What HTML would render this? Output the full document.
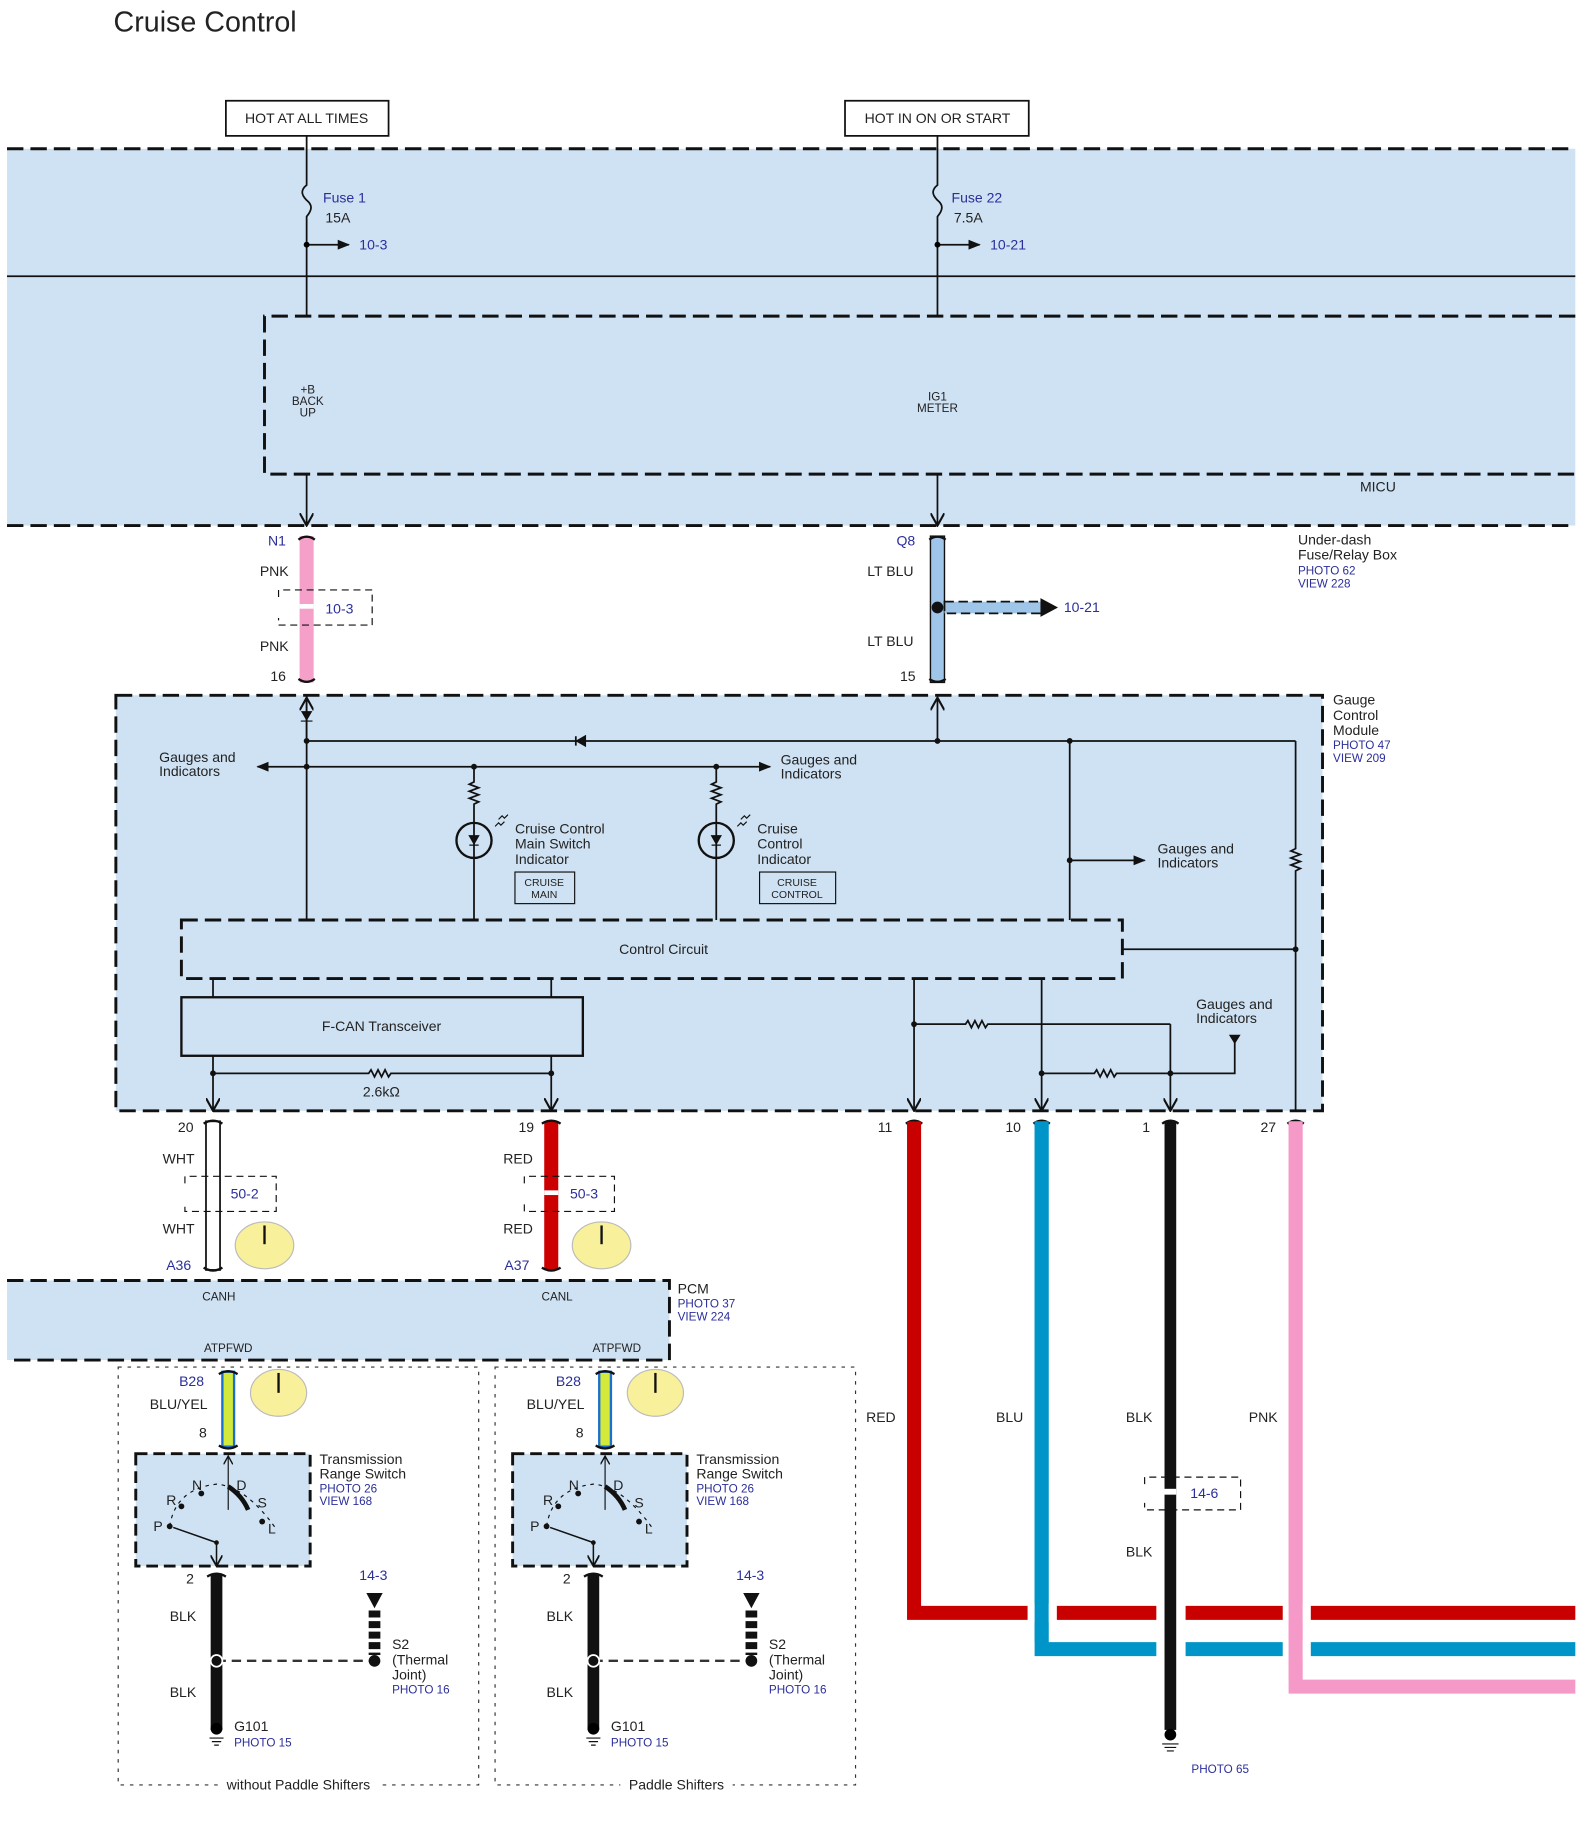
<!DOCTYPE html>
<html><head><meta charset="utf-8"><style>
html,body{margin:0;padding:0;background:#fff;width:1580px;height:1833px;overflow:hidden}
svg{display:block}
text{font-family:"Liberation Sans",sans-serif;font-size:12px;fill:#222}
.b{fill:#2b2f9a}
.s{font-size:10px}
</style></head><body>
<svg width="1580" height="1833" viewBox="0 0 1350 1566" xmlns="http://www.w3.org/2000/svg">
<defs>
<marker id="ar" viewBox="0 0 10 10" refX="9" refY="5" markerWidth="7" markerHeight="7" orient="auto"><path d="M0,1 L10,5 L0,9 Z" fill="#111"/></marker>
<marker id="av" viewBox="0 0 10 10" refX="9" refY="5" markerWidth="8" markerHeight="8" orient="auto"><path d="M0,0 L9,5 L0,10" fill="none" stroke="#111" stroke-width="1.5"/></marker>
</defs>
<text x="97" y="27" style="font-size:24.5px">Cruise Control</text>
<rect x="193" y="86" width="139" height="30" fill="#fff" stroke="#111" stroke-width="1.5"/>
<text x="262" y="105" text-anchor="middle">HOT AT ALL TIMES</text>
<rect x="722" y="86" width="157" height="30" fill="#fff" stroke="#111" stroke-width="1.5"/>
<text x="801" y="105" text-anchor="middle">HOT IN ON OR START</text>
<rect x="6" y="127" width="1340" height="322" fill="#cfe2f3"/>
<g stroke="#111" stroke-width="2.5" stroke-dasharray="14 6" fill="none">
<line x1="6" y1="127" x2="1346" y2="127"/><line x1="6" y1="449" x2="1346" y2="449"/>
<path d="M1346,270 H226 V405 H1346"/>
</g>
<line x1="6" y1="236" x2="1346" y2="236" stroke="#111" stroke-width="1.5"/>
<g stroke="#111" stroke-width="1.5" fill="none">
<path d="M262,116 V158 c-5,4 -5,8 0,13 c5,4 5,8 0,14 V270"/>
<path d="M801,116 V158 c-5,4 -5,8 0,13 c5,4 5,8 0,14 V270"/>
<line x1="262" y1="209" x2="298" y2="209" marker-end="url(#ar)"/>
<line x1="801" y1="209" x2="837" y2="209" marker-end="url(#ar)"/>
<line x1="262" y1="405" x2="262" y2="449" marker-end="url(#av)"/>
<line x1="801" y1="405" x2="801" y2="449" marker-end="url(#av)"/>
</g>
<circle cx="262" cy="209" r="2.5"/><circle cx="801" cy="209" r="2.5"/>
<text x="276" y="173" class="b">Fuse 1</text><text x="278" y="190">15A</text><text x="307" y="213" class="b">10-3</text>
<text x="813" y="173" class="b">Fuse 22</text><text x="815" y="190">7.5A</text><text x="846" y="213" class="b">10-21</text>
<text x="263" y="336" class="s" text-anchor="middle">+B</text><text x="263" y="346" class="s" text-anchor="middle">BACK</text><text x="263" y="356" class="s" text-anchor="middle">UP</text>
<text x="801" y="342" class="s" text-anchor="middle">IG1</text><text x="801" y="352" class="s" text-anchor="middle">METER</text>
<text x="1162" y="420">MICU</text>
<text x="1109" y="465">Under-dash</text><text x="1109" y="478">Fuse/Relay Box</text>
<text x="1109" y="491" class="b s">PHOTO 62</text><text x="1109" y="502" class="b s">VIEW 228</text>
<rect x="256" y="458" width="12" height="125" fill="#f4a0c8"/>
<rect x="795" y="458" width="12" height="125" fill="#9fc5e8" stroke="#111" stroke-width="1.2"/>
<g stroke="#111" stroke-width="2" fill="none">
<path d="M255,461 q7,-5 14,0"/><path d="M255,580 q7,5 14,0"/>
<path d="M794,461 q7,-5 14,0"/><path d="M794,580 q7,5 14,0"/>
</g>
<text x="229" y="466" class="b">N1</text><text x="222" y="492">PNK</text><text x="222" y="556">PNK</text><text x="231" y="582">16</text>
<path d="M238,510 V504 H318 V534 H238 V528" fill="none" stroke="#111" stroke-dasharray="6 4"/>
<rect x="256" y="516" width="12" height="4" fill="#fff"/>
<text x="278" y="524" class="b">10-3</text>
<text x="766" y="466" class="b">Q8</text><text x="741" y="492">LT BLU</text><text x="741" y="552">LT BLU</text><text x="769" y="582">15</text>
<rect x="807" y="514" width="84" height="10" fill="#9fc5e8" stroke="#111" stroke-width="1.5" stroke-dasharray="8 4"/>
<path d="M889,511 L904,519 L889,527 Z" fill="#111"/>
<circle cx="801" cy="519" r="5" fill="#111"/>
<text x="909" y="523" class="b">10-21</text>
<rect x="99" y="594" width="1031" height="355" fill="#cfe2f3" stroke="#111" stroke-width="2.5" stroke-dasharray="14 6"/>
<text x="1139" y="602">Gauge</text><text x="1139" y="615">Control</text><text x="1139" y="628">Module</text>
<text x="1139" y="640" class="b s">PHOTO 47</text><text x="1139" y="651" class="b s">VIEW 209</text>
<g stroke="#111" stroke-width="1.5" fill="none">
<line x1="262" y1="594" x2="262" y2="786"/>
<line x1="262" y1="633" x2="1107" y2="633"/>
<line x1="801" y1="633" x2="801" y2="596" marker-end="url(#av)"/>
<line x1="262" y1="633" x2="262" y2="596" marker-end="url(#av)"/>
<line x1="262" y1="655" x2="220" y2="655" marker-end="url(#ar)"/>
<line x1="262" y1="655" x2="658" y2="655" marker-end="url(#ar)"/>
<path d="M405,655 V668 l-4,2 8,3 -8,3 8,3 -8,3 8,3 -4,2 V786"/>
<path d="M612,655 V668 l-4,2 8,3 -8,3 8,3 -8,3 8,3 -4,2 V786"/>
<circle cx="405" cy="718" r="15" stroke-width="2"/><circle cx="612" cy="718" r="15" stroke-width="2"/>
<line x1="914" y1="633" x2="914" y2="786"/>
<line x1="914" y1="735" x2="978" y2="735" marker-end="url(#ar)"/>
<path d="M1107,633 V725 l-4,2 8,3 -8,3 8,3 -8,3 8,3 -4,2 V949" />
<line x1="959" y1="811" x2="1107" y2="811"/>
<line x1="182" y1="836" x2="182" y2="852"/><line x1="471" y1="836" x2="471" y2="852"/>
<line x1="182" y1="902" x2="182" y2="949" marker-end="url(#av)"/>
<line x1="471" y1="902" x2="471" y2="949" marker-end="url(#av)"/>
<path d="M182,917 H315 l2,-3 3,6 3,-6 3,6 3,-6 3,6 2,-3 H471"/>
<line x1="781" y1="836" x2="781" y2="949" marker-end="url(#av)"/>
<line x1="890" y1="836" x2="890" y2="949" marker-end="url(#av)"/>
<line x1="1000" y1="875" x2="1000" y2="949" marker-end="url(#av)"/>
<path d="M781,875 H825 l2,-3 3,6 3,-6 3,6 3,-6 3,6 2,-3 H1000"/>
<path d="M890,917 H935 l2,-3 3,6 3,-6 3,6 3,-6 3,6 2,-3 H1055 V890"/>
</g>
<path d="M1050,884 L1060,884 L1055,892 Z" fill="#111"/>
<path d="M258,608 L266,608 L262,615 Z M257,616 H267" fill="#111" stroke="#111"/>
<path d="M500,629 L500,637 L493,633 Z M492,629 V637" fill="#111" stroke="#111" stroke-width="1.5"/>
<path d="M401,714 L409,714 L405,721 Z M401,722 H409" fill="#111" stroke="#111"/>
<path d="M608,714 L616,714 L612,721 Z M608,722 H616" fill="#111" stroke="#111"/>
<g fill="#111"><circle cx="262" cy="633" r="2.5"/><circle cx="262" cy="655" r="2.5"/><circle cx="405" cy="655" r="2.5"/><circle cx="612" cy="655" r="2.5"/><circle cx="801" cy="633" r="2.5"/><circle cx="914" cy="633" r="2.5"/><circle cx="914" cy="735" r="2.5"/><circle cx="1107" cy="811" r="2.5"/><circle cx="182" cy="917" r="2.5"/><circle cx="471" cy="917" r="2.5"/><circle cx="781" cy="875" r="2.5"/><circle cx="890" cy="917" r="2.5"/><circle cx="1000" cy="917" r="2.5"/></g>
<g stroke="#111" stroke-width="1" fill="none"><path d="M423,706 l3,-3 2,2 3,-3 M426,700 l3,-3 2,2 3,-3"/><path d="M630,706 l3,-3 2,2 3,-3 M633,700 l3,-3 2,2 3,-3"/></g>
<text x="136" y="651">Gauges and</text><text x="136" y="663">Indicators</text>
<text x="667" y="653">Gauges and</text><text x="667" y="665">Indicators</text>
<text x="440" y="712">Cruise Control</text><text x="440" y="725">Main Switch</text><text x="440" y="738">Indicator</text>
<text x="647" y="712">Cruise</text><text x="647" y="725">Control</text><text x="647" y="738">Indicator</text>
<rect x="440" y="745" width="51" height="27" fill="none" stroke="#111"/>
<text x="465" y="757" text-anchor="middle" style="font-size:9px">CRUISE</text><text x="465" y="767" text-anchor="middle" style="font-size:9px">MAIN</text>
<rect x="649" y="745" width="65" height="27" fill="none" stroke="#111"/>
<text x="681" y="757" text-anchor="middle" style="font-size:9px">CRUISE</text><text x="681" y="767" text-anchor="middle" style="font-size:9px">CONTROL</text>
<text x="989" y="729">Gauges and</text><text x="989" y="741">Indicators</text>
<text x="1022" y="862">Gauges and</text><text x="1022" y="874">Indicators</text>
<rect x="155" y="786" width="804" height="50" fill="none" stroke="#111" stroke-width="2.5" stroke-dasharray="14 6"/>
<text x="567" y="815" text-anchor="middle">Control Circuit</text>
<rect x="155" y="852" width="343" height="50" fill="none" stroke="#111" stroke-width="2"/>
<text x="326" y="881" text-anchor="middle">F-CAN Transceiver</text>
<text x="310" y="937">2.6kΩ</text>
<text x="152" y="967">20</text><text x="443" y="967">19</text><text x="750" y="967">11</text><text x="859" y="967">10</text><text x="976" y="967">1</text><text x="1077" y="967">27</text>
<rect x="176" y="958" width="12" height="127" fill="#fff" stroke="#111" stroke-width="1.5"/>
<rect x="465" y="958" width="12" height="127" fill="#c00"/>
<g stroke="#111" stroke-width="2" fill="none">
<path d="M174,960 q8,-5 16,0"/><path d="M174,1083 q8,5 16,0"/>
<path d="M463,960 q8,-5 16,0"/><path d="M463,1083 q8,5 16,0"/>
<path d="M774,960 q7,-5 14,0"/><path d="M883,960 q7,-5 14,0"/><path d="M993,960 q7,-5 14,0"/><path d="M1100,960 q7,-5 14,0"/>
</g>
<text x="139" y="994">WHT</text><text x="139" y="1054">WHT</text><text x="142" y="1085" class="b">A36</text>
<path d="M158,1011 V1005 H236 V1035 H158 V1029" fill="none" stroke="#111" stroke-dasharray="6 4"/>
<text x="197" y="1024" class="b">50-2</text>
<text x="430" y="994">RED</text><text x="430" y="1054">RED</text><text x="431" y="1085" class="b">A37</text>
<path d="M448,1011 V1005 H525 V1035 H448 V1029" fill="none" stroke="#111" stroke-dasharray="6 4"/>
<rect x="465" y="1017" width="12" height="4" fill="#fff"/>
<text x="487" y="1024" class="b">50-3</text>
<ellipse cx="226" cy="1064" rx="25" ry="20" fill="#f8f09a" stroke="#bbb"/><line x1="226" y1="1047" x2="226" y2="1063" stroke="#111" stroke-width="2"/>
<ellipse cx="514" cy="1064" rx="25" ry="20" fill="#f8f09a" stroke="#bbb"/><line x1="514" y1="1047" x2="514" y2="1063" stroke="#111" stroke-width="2"/>
<g fill="none" stroke-width="12">
<path d="M781,958 V1378 H1346" stroke="#c80000"/>
<path d="M890,958 V1409 H1346" stroke="#0095c8"/>
<path d="M1107,958 V1441 H1346" stroke="#f59ac8"/>
</g>
<g fill="#fff"><rect x="878" y="1370" width="25" height="16"/><rect x="988" y="1370" width="25" height="16"/><rect x="1096" y="1370" width="24" height="16"/><rect x="988" y="1401" width="25" height="16"/><rect x="1096" y="1401" width="24" height="16"/></g>
<rect x="884" y="958" width="12" height="445" fill="#0095c8"/>
<rect x="1101" y="958" width="12" height="477" fill="#f59ac8"/>
<rect x="995" y="958" width="10" height="520" fill="#111"/>
<path d="M978,1268 V1262 H1060 V1290 H978 V1284" fill="none" stroke="#111" stroke-dasharray="6 4"/>
<rect x="995" y="1272" width="10" height="5" fill="#fff"/>
<text x="1017" y="1280" class="b">14-6</text>
<text x="740" y="1215">RED</text><text x="851" y="1215">BLU</text><text x="962" y="1215">BLK</text><text x="1067" y="1215">PNK</text><text x="962" y="1330">BLK</text>
<circle cx="1000" cy="1482" r="5"/><path d="M993,1490 H1007 M995,1493 H1005 M997,1496 H1003" stroke="#111"/>
<text x="1018" y="1515" class="b s">PHOTO 65</text>
<rect x="6" y="1094" width="566" height="68" fill="#cfe2f3"/>
<path d="M6,1094 H572 V1162 H6" fill="none" stroke="#111" stroke-width="2.5" stroke-dasharray="14 6"/>
<text x="187" y="1111" class="s" text-anchor="middle">CANH</text><text x="476" y="1111" class="s" text-anchor="middle">CANL</text>
<text x="195" y="1155" class="s" text-anchor="middle">ATPFWD</text><text x="527" y="1155" class="s" text-anchor="middle">ATPFWD</text>
<text x="579" y="1105">PCM</text><text x="579" y="1117" class="b s">PHOTO 37</text><text x="579" y="1128" class="b s">VIEW 224</text>
<rect x="101" y="1168" width="308" height="357" fill="none" stroke="#333" stroke-dasharray="3 5"/>
<rect x="423" y="1168" width="308" height="357" fill="none" stroke="#333" stroke-dasharray="3 5"/>
<rect x="188" y="1520" width="136" height="12" fill="#fff"/><rect x="530" y="1520" width="96" height="12" fill="#fff"/>
<text x="255" y="1529" text-anchor="middle">without Paddle Shifters</text>
<text x="578" y="1529" text-anchor="middle">Paddle Shifters</text>
<g id="sub">
<text x="153" y="1184" class="b">B28</text><text x="128" y="1204">BLU/YEL</text><text x="170" y="1228">8</text>
<rect x="190" y="1172" width="10" height="64" fill="#d4ea3a" stroke="#1a6fd0" stroke-width="2"/>
<path d="M187,1174 q8,-5 16,0 M187,1235 q8,5 16,0" stroke="#111" stroke-width="2" fill="none"/>
<ellipse cx="238" cy="1190" rx="24" ry="20" fill="#f8f09a" stroke="#bbb"/><line x1="238" y1="1173" x2="238" y2="1190" stroke="#111" stroke-width="2"/>
<rect x="116" y="1242" width="149" height="96" fill="#cfe2f3" stroke="#111" stroke-width="2.5" stroke-dasharray="10 5"/>
<line x1="195" y1="1290" x2="195" y2="1244" stroke="#111" marker-end="url(#av)"/>
<path d="M185,1318 L148,1305 M185,1318 V1338" stroke="#111" stroke-width="1.3" fill="none" marker-end="url(#av)"/>
<path d="M145,1304 Q150,1272 185,1268 Q210,1270 235,1305" fill="none" stroke="#111" stroke-dasharray="3 4"/>
<path d="M195,1270 Q207,1278 212,1290" fill="none" stroke="#111" stroke-width="4"/>
<g fill="#111"><circle cx="145" cy="1304" r="2.5"/><circle cx="155" cy="1287" r="2.5"/><circle cx="172" cy="1276" r="2.5"/><circle cx="224" cy="1300" r="2.5"/><circle cx="185" cy="1318" r="2"/></g>
<text x="131" y="1308">P</text><text x="142" y="1286">R</text><text x="164" y="1273">N</text><text x="202" y="1273">D</text><text x="220" y="1288">S</text><text x="229" y="1310">L</text>
<text x="273" y="1251">Transmission</text><text x="273" y="1263">Range Switch</text>
<text x="273" y="1275" class="b s">PHOTO 26</text><text x="273" y="1286" class="b s">VIEW 168</text>
<text x="159" y="1353">2</text>
<rect x="180" y="1345" width="10" height="133" fill="#111"/>
<path d="M177,1347 q8,-5 16,0" stroke="#111" stroke-width="2" fill="none"/>
<text x="145" y="1385">BLK</text><text x="145" y="1450">BLK</text>
<line x1="185" y1="1419" x2="320" y2="1419" stroke="#333" stroke-width="2" stroke-dasharray="8 5"/>
<circle cx="185" cy="1419" r="5" fill="#111" stroke="#fff" stroke-width="1.5"/><circle cx="320" cy="1419" r="5" fill="#111"/>
<text x="307" y="1350" class="b">14-3</text>
<path d="M313,1361 H327 L320,1374 Z" fill="#111"/>
<line x1="320" y1="1376" x2="320" y2="1414" stroke="#111" stroke-width="10" stroke-dasharray="6 3"/>
<text x="335" y="1409">S2</text><text x="335" y="1422">(Thermal</text><text x="335" y="1435">Joint)</text><text x="335" y="1447" class="b s">PHOTO 16</text>
<circle cx="185" cy="1477" r="5"/><path d="M179,1485 H191 M181,1488 H189 M183,1491 H187" stroke="#111"/>
<text x="200" y="1479">G101</text><text x="200" y="1492" class="b s">PHOTO 15</text>
</g>
<use href="#sub" transform="translate(322,0)"/>
</svg>
</body></html>
